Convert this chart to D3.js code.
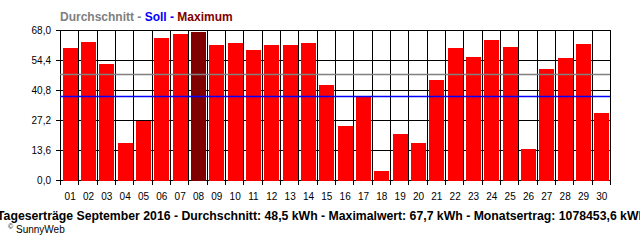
<!DOCTYPE html>
<html><head><meta charset="utf-8">
<script src="https://cdn.jsdelivr.net/npm/d3@7"></script>
<style>
html,body{margin:0;padding:0;background:#fff;overflow:hidden}
svg{display:block}
text{font-family:"Liberation Sans",Arial,sans-serif}
</style></head>
<body>
<svg id="c" width="640" height="240"></svg>
<script>
const days = ["01","02","03","04","05","06","07","08","09","10","11","12","13","14","15","16","17","18","19","20","21","22","23","24","25","26","27","28","29","30"];
const values = [60.4,63.1,53.2,17.4,27.2,65.0,66.8,67.7,61.8,62.7,59.5,61.8,61.8,62.7,43.7,25.1,38.7,4.7,21.4,17.4,45.9,60.4,56.3,64.0,60.9,14.6,50.9,55.9,62.3,31.0];
const yTicks = [0,13.6,27.2,40.8,54.4,68.0];
const averageLine = 48.0;
const targetLine = 38.0;
const maxDay = "08";
const legendParts = [["Durchschnitt - ","#808080"],["Soll - ","#0000ff"],["Maximum","#800000"]];
const footer = "Tageserträge September 2016 - Durchschnitt: 48,5 kWh - Maximalwert: 67,7 kWh - Monatsertrag: 1078453,6 kWh";
const credit = "SunnyWeb";

const svg = d3.select("#c");
const L=60, R=610, T=30, B=180;
const x = d3.scaleBand().domain(days).range([L,R]).paddingInner(0.17).paddingOuter(0.085);
const y = d3.scaleLinear().domain([0,68]).range([B,T]);
const step = x.step();
const bounds = d3.range(days.length+1).map(i => L + i*step);
const fmt = v => d3.format(".1f")(v).replace(".", ",");

// horizontal grid
svg.append("g").selectAll("line").data(yTicks).join("line")
  .attr("x1",L-4).attr("x2",R).attr("y1",d=>Math.round(y(d))+0.5).attr("y2",d=>Math.round(y(d))+0.5)
  .attr("stroke","#000").attr("stroke-width",1);
// vertical grid + ticks
svg.append("g").selectAll("line").data(bounds).join("line")
  .attr("x1",d=>Math.round(d)+0.5).attr("x2",d=>Math.round(d)+0.5).attr("y1",T).attr("y2",B+5)
  .attr("stroke","#000").attr("stroke-width",1);

// bars
svg.append("g").selectAll("rect").data(days).join("rect")
  .attr("x",d=>Math.round(x(d))+1).attr("width",Math.round(x.bandwidth()))
  .attr("y",(d,i)=>Math.round(y(values[i]))+1).attr("height",(d,i)=>B-Math.round(y(values[i])))
  .attr("fill",d=>d===maxDay?"#800000":"#ff0000");

// reference lines
svg.append("line").attr("x1",L).attr("x2",R).attr("y1",Math.round(y(averageLine))+0.5).attr("y2",Math.round(y(averageLine))+0.5)
  .attr("stroke","#808080").attr("stroke-width",1.3);
svg.append("line").attr("x1",L).attr("x2",R).attr("y1",Math.round(y(targetLine))+0.5).attr("y2",Math.round(y(targetLine))+0.5)
  .attr("stroke","#0000ff").attr("stroke-width",1.3);

// y labels
svg.append("g").selectAll("text").data(yTicks).join("text")
  .attr("x",51).attr("y",d=>y(d)+3.5).attr("text-anchor","end")
  .attr("font-size",10).attr("fill","#000").text(fmt);
// x labels
svg.append("g").selectAll("text").data(days).join("text")
  .attr("x",d=>x(d)+x.bandwidth()/2+1).attr("y",200).attr("text-anchor","middle")
  .attr("font-size",10).attr("fill","#000").text(d=>d);

// legend title
const lt = svg.append("text").attr("x",60).attr("y",21).attr("font-size",12).attr("font-weight","bold");
legendParts.forEach(p => lt.append("tspan").attr("fill",p[1]).text(p[0]));

// footer
svg.append("text").attr("x",-3).attr("y",220).attr("font-size",12).attr("font-weight","bold")
  .attr("textLength",649).attr("lengthAdjust","spacingAndGlyphs").attr("fill","#000").text(footer);
svg.append("text").attr("x",8).attr("y",229).attr("font-size",7).attr("fill","#000").text("©");
svg.append("text").attr("x",16).attr("y",233).attr("font-size",10).attr("fill","#000").text(credit);
</script>
</body></html>
